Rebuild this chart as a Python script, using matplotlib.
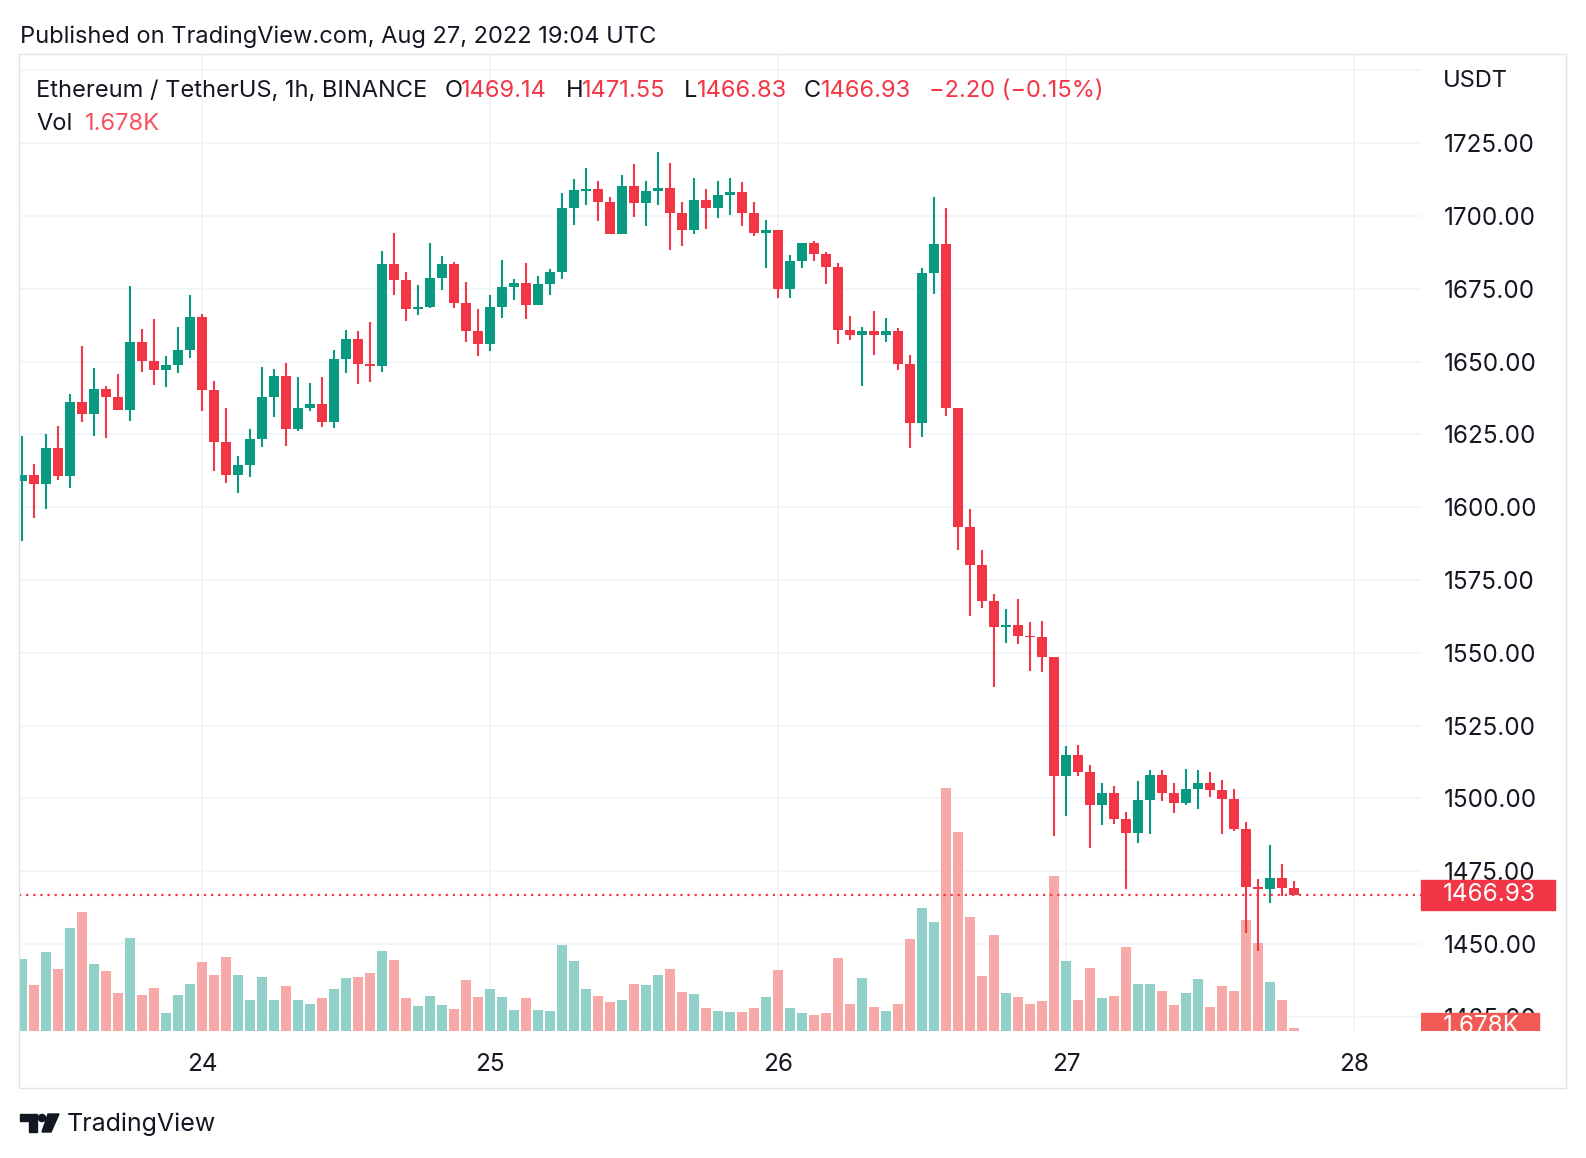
import matplotlib
matplotlib.use("Agg")
import matplotlib.pyplot as plt
from matplotlib.patches import Rectangle, Polygon, Circle
from matplotlib.transforms import blended_transform_factory, Bbox, TransformedBbox
import numpy as np

plt.rcParams['font.family'] = ['Inter', 'DejaVu Sans']

# ETH/USDT 1h candles, Aug 23 09:00 -> Aug 27 19:00 UTC
opens = [1609.0, 1611.0, 1607.9, 1620.3, 1610.8, 1636.1, 1632.1, 1640.6, 1637.9, 1633.5,
         1656.7, 1650.3, 1647.2, 1648.8, 1654.0, 1665.3, 1640.3, 1622.5, 1611.0, 1614.5,
         1623.4, 1637.8, 1645.0, 1626.9, 1634.0, 1635.4, 1629.3, 1650.9, 1657.7, 1649.2,
         1648.6, 1683.5, 1678.1, 1668.1, 1668.7, 1678.7, 1683.5, 1670.2, 1660.6, 1656.1,
         1668.7, 1675.6, 1676.9, 1669.5, 1676.6, 1680.7, 1702.7, 1708.5, 1709.2, 1704.9,
         1693.9, 1710.3, 1704.5, 1708.5, 1709.6, 1701.1, 1695.2, 1705.4, 1702.8, 1707.2,
         1708.2, 1701.1, 1694.2, 1695.2, 1675.0, 1684.5, 1690.7, 1687.0, 1682.5, 1660.9,
         1659.2, 1660.5, 1659.2, 1660.5, 1649.2, 1629.0, 1680.4, 1690.3, 1634.1, 1593.3,
         1580.2, 1567.9, 1559.0, 1559.6, 1555.9, 1555.5, 1548.7, 1507.8, 1514.9, 1509.2,
         1497.8, 1501.9, 1493.0, 1488.2, 1499.5, 1508.0, 1502.0, 1498.5, 1503.2, 1505.3,
         1502.8, 1499.6, 1489.6, 1469.7, 1469.0, 1472.7, 1469.14]
highs = [1624.5, 1614.8, 1625.1, 1628.0, 1638.8, 1655.3, 1647.8, 1641.6, 1645.7, 1675.9,
         1661.2, 1664.6, 1651.9, 1661.8, 1672.8, 1666.3, 1643.3, 1634.0, 1617.6, 1626.8,
         1648.1, 1647.4, 1649.5, 1644.7, 1642.6, 1644.7, 1654.0, 1660.8, 1660.5, 1663.6,
         1687.9, 1694.1, 1680.7, 1676.3, 1690.7, 1686.2, 1684.2, 1677.3, 1668.0, 1672.8,
         1684.9, 1678.3, 1683.8, 1679.4, 1681.8, 1707.9, 1712.7, 1716.4, 1712.0, 1706.5,
         1714.1, 1717.7, 1712.0, 1722.0, 1718.0, 1704.8, 1713.0, 1709.2, 1712.0, 1713.0,
         1711.7, 1704.8, 1698.6, 1695.2, 1686.6, 1690.7, 1691.4, 1687.6, 1683.8, 1665.6,
         1661.8, 1667.3, 1664.9, 1661.5, 1652.2, 1682.1, 1706.5, 1702.7, 1634.1, 1599.4,
         1585.3, 1570.2, 1565.0, 1568.5, 1560.6, 1560.9, 1548.7, 1518.0, 1518.3, 1511.5,
         1505.3, 1504.3, 1495.3, 1506.0, 1509.8, 1509.8, 1505.3, 1510.2, 1509.8, 1509.1,
         1506.3, 1503.2, 1491.9, 1472.3, 1484.0, 1477.5, 1471.55]
lows = [1588.4, 1596.3, 1599.4, 1609.3, 1606.7, 1629.3, 1624.5, 1623.8, 1633.5, 1629.7,
        1646.5, 1642.0, 1641.3, 1646.2, 1651.3, 1633.1, 1612.5, 1608.4, 1605.0, 1610.4,
        1620.7, 1631.0, 1621.1, 1626.2, 1633.1, 1627.6, 1627.3, 1646.2, 1642.4, 1643.1,
        1646.5, 1672.9, 1664.0, 1666.1, 1668.5, 1674.6, 1668.5, 1656.8, 1652.0, 1653.7,
        1665.0, 1671.2, 1664.7, 1669.5, 1672.9, 1678.4, 1697.0, 1703.8, 1698.3, 1693.9,
        1693.9, 1699.7, 1696.6, 1703.8, 1688.4, 1689.8, 1693.9, 1695.6, 1699.4, 1700.4,
        1696.6, 1693.2, 1682.2, 1671.9, 1671.9, 1682.2, 1684.6, 1676.7, 1656.1, 1657.5,
        1641.7, 1652.3, 1656.8, 1647.2, 1620.4, 1624.2, 1673.3, 1631.4, 1585.4, 1562.7,
        1565.5, 1538.4, 1553.4, 1553.1, 1543.8, 1543.5, 1486.9, 1494.1, 1507.5, 1483.1,
        1491.0, 1491.3, 1469.0, 1484.8, 1487.9, 1499.2, 1494.8, 1497.8, 1496.4, 1500.6,
        1487.9, 1488.9, 1453.9, 1447.6, 1464.2, 1466.6, 1466.83]
closes = [1611.0, 1607.9, 1620.3, 1610.8, 1636.1, 1632.1, 1640.6, 1637.9, 1633.5, 1656.7,
          1650.3, 1647.2, 1648.8, 1654.0, 1665.3, 1640.3, 1622.5, 1611.0, 1614.5, 1623.4,
          1637.8, 1645.0, 1626.9, 1634.0, 1635.4, 1629.3, 1650.9, 1657.7, 1649.2, 1648.6,
          1683.5, 1678.1, 1668.1, 1668.7, 1678.7, 1683.5, 1670.2, 1660.6, 1656.1, 1668.7,
          1675.6, 1676.9, 1669.5, 1676.6, 1680.7, 1702.7, 1708.9, 1709.2, 1704.9, 1693.9,
          1710.3, 1704.5, 1708.5, 1709.6, 1701.1, 1695.2, 1705.4, 1702.8, 1707.2, 1708.2,
          1701.1, 1694.2, 1695.2, 1675.0, 1684.5, 1690.7, 1687.0, 1682.5, 1660.9, 1659.2,
          1660.5, 1659.2, 1660.5, 1649.2, 1629.0, 1680.4, 1690.3, 1634.1, 1593.3, 1580.2,
          1567.9, 1559.0, 1559.6, 1555.9, 1555.5, 1548.7, 1507.8, 1514.9, 1509.2, 1497.8,
          1501.9, 1493.0, 1488.2, 1499.5, 1508.0, 1502.0, 1498.5, 1503.2, 1505.3, 1502.8,
          1499.6, 1489.6, 1469.7, 1469.0, 1472.7, 1469.13, 1466.93]
# volume, thousands of ETH
volumes = [36, 23, 39.5, 31, 51.5, 59.5, 33.5, 30, 19, 46.5,
           18, 21.5, 9, 18, 23.5, 34.5, 28, 37, 28, 15.5,
           27, 15.5, 22.5, 15.5, 13.5, 16.5, 21, 26.5, 27, 29,
           40, 35.5, 16.5, 12.5, 17.5, 13, 11, 25.5, 17, 21,
           17, 10.5, 16.5, 10.5, 10, 43, 35, 21, 17.5, 14.5,
           15.5, 23.5, 23, 28, 31, 19.5, 18.5, 11.5, 10, 9.5,
           9.5, 11.5, 17, 30.5, 11.5, 9, 8, 9, 36.5, 13.5,
           26.5, 12, 10, 13.5, 46, 61.5, 54.5, 121.5, 99.5, 57,
           27.5, 48, 19, 17, 13.5, 15, 77.5, 35, 15.5, 31.5,
           16.5, 17.5, 42, 23.5, 23.5, 20, 13, 19, 26, 12,
           22.5, 20, 55.5, 44, 24.5, 15.5, 1.678]

day_ticks = [15, 39, 63, 87, 111]
day_labels = ["24", "25", "26", "27", "28"]
price_ticks = list(range(1425, 1751, 25))

UP, DOWN = "#089981", "#f23645"
UP_VOL, DOWN_VOL = "#92d1ca", "#f7a9a8"
TXT = "#131722"
GRID = "#f0f3fa"
FS = 17
FS_AX = 17.5

W, H = 1586, 1158
fig = plt.figure(figsize=(W / 100, H / 100), dpi=100)
rect = [19 / W, 1 - 1031 / H, (1421 - 19) / W, (1031 - 54) / H]

x = np.arange(len(opens))
o = np.array(opens); c = np.array(closes)
up = c >= o
xlim = (-0.25, 116.58)
ylim = (1420.1, 1755.6)

# grid layer
axg = fig.add_axes(rect, zorder=0)
axg.set_xlim(*xlim); axg.set_ylim(*ylim)
for t in day_ticks:
    axg.axvline(t, color=GRID, lw=1.2)
for p in price_ticks:
    axg.axhline(p, color=GRID, lw=1.2)
axg.axis("off")

# volume layer
axv = fig.add_axes(rect, zorder=1)
axv.patch.set_visible(False)
axv.set_xlim(*xlim); axv.set_ylim(0, 488.5)
axv.bar(x, volumes, width=0.8, color=np.where(up, UP_VOL, DOWN_VOL), linewidth=0)
axv.axis("off")

# price layer
ax = fig.add_axes(rect, zorder=2)
ax.patch.set_visible(False)
ax.set_xlim(*xlim); ax.set_ylim(*ylim)
cols = np.where(up, UP, DOWN)
ax.vlines(x, lows, highs, colors=cols, linewidth=1.5)
body = np.maximum(np.abs(c - o), 0.4)
ax.bar(x, body, bottom=np.minimum(o, c), width=0.8, color=cols, linewidth=0)
ax.axhline(closes[-1], color=DOWN, lw=1.6, ls=(0, (1, 2.2)))
for s in ax.spines.values():
    s.set_visible(False)
ax.yaxis.tick_right()
ax.set_yticks(price_ticks, [f"{p:.2f}" if p < 1750 else "" for p in price_ticks])
ax.set_xticks(day_ticks, day_labels)
ax.tick_params(axis="y", length=0, pad=16.5, labelsize=FS_AX, labelcolor=TXT)
ax.tick_params(axis="x", length=0, pad=15.5, labelsize=FS_AX, labelcolor=TXT)

# last price label on the price scale
bt = blended_transform_factory(ax.transAxes, ax.transData)
ax.add_patch(Rectangle((1, closes[-1] - 5.15), 134 / 1402, 10.3, transform=bt,
                       color=DOWN, clip_on=False, zorder=5))
ax.text(1 + 22 / 1402, closes[-1], f"{closes[-1]:.2f}", transform=bt, color="white",
        fontsize=FS_AX, va="center", ha="left", zorder=6, clip_on=False)

# overlay in pixel space
ovl = fig.add_axes([0, 0, 1, 1], zorder=10)
ovl.patch.set_visible(False)
ovl.set_xlim(0, W); ovl.set_ylim(H, 0)
ovl.axis("off")

# volume label, drawn on top of the price scale and cut at the pane bottom
bv = blended_transform_factory(axv.transAxes, axv.transData)
clip = TransformedBbox(Bbox([[1, 0], [1.2, 1]]), axv.transAxes)
r = Rectangle((1, volumes[-1] - 7.5), 118 / 1402, 15, transform=bv, color="#f25a55", zorder=5)
ovl.add_patch(r)
r.set_clip_path(None)
r.set_clip_box(clip)
vt = ovl.text(1 + 22 / 1402, volumes[-1] + 0.5, f"{volumes[-1]:.3f}K", transform=bv,
              color="white", fontsize=FS_AX, va="center", ha="left", zorder=6)
vt.set_clip_on(True)
vt.set_clip_path(None)
vt.set_clip_box(clip)

ovl.add_patch(Rectangle((19, 54), 1566 - 19, 1088 - 54, fill=False, ec="#e0e3eb", lw=1))
ovl.text(20, 37, "Published on TradingView.com, Aug 27, 2022 19:04 UTC", fontsize=FS,
         color=TXT, va="center")

chg = closes[-1] - closes[-2]
pct = chg / closes[-2] * 100
pieces = [("Ethereum / TetherUS, 1h, BINANCE", 36, TXT),
          ("O", 445, TXT), (f"{opens[-1]:.2f}", 461, DOWN),
          ("H", 566, TXT), (f"{highs[-1]:.2f}", 582, DOWN),
          ("L", 684, TXT), (f"{lows[-1]:.2f}", 697, DOWN),
          ("C", 804, TXT), (f"{closes[-1]:.2f}", 821, DOWN),
          (f"{chg:.2f} ({pct:.2f}%)".replace("-", "\u2212"), 929, DOWN)]
for s, px, col in pieces:
    ovl.text(px, 91, s, fontsize=FS, color=col, va="center")
ovl.text(36, 124, "Vol", fontsize=FS, color=TXT, va="center")
ovl.text(85, 124, f"{volumes[-1]:.3f}K", fontsize=FS, color="#f7525f", va="center")
ovl.text(1443, 81, "USDT", fontsize=FS, color=TXT, va="center")

# TradingView logo
ovl.add_patch(Polygon([(20, 1114), (37, 1114), (37, 1132), (29, 1132), (29, 1121), (20, 1121)],
                      color=TXT))
ovl.add_patch(Circle((42, 1118), 3.6, color=TXT))
ovl.add_patch(Polygon([(48, 1114), (59, 1114), (51, 1132), (42, 1132)], color=TXT))
ovl.text(67, 1124, "TradingView", fontsize=18, color=TXT, va="center")

fig.savefig("out.png", dpi=100)
